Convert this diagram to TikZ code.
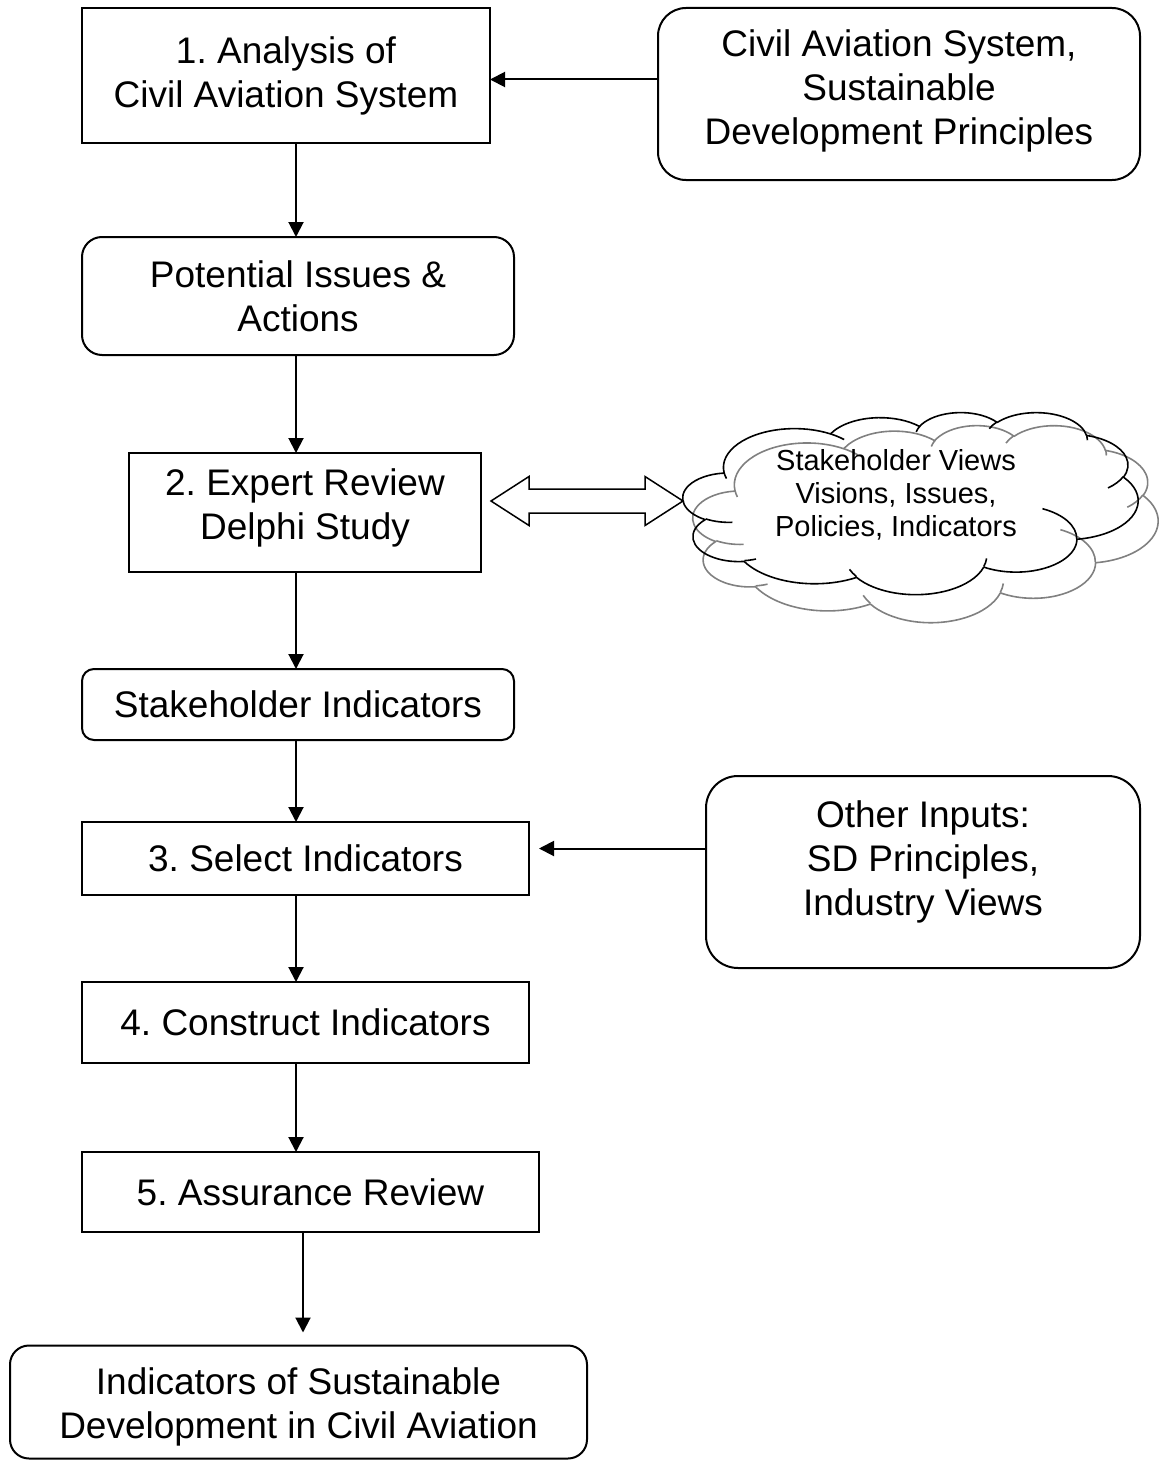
\documentclass[tikz,border=0pt]{standalone}
\usepackage{fontspec}
\setmainfont{Liberation Sans}
\usetikzlibrary{arrows.meta, calc}

% One elliptical arc of the cloud outline: x radius, y radius, start and sweep
% given as angles seen from the ellipse centre; converted to the parametric
% angles that TikZ's arc operation expects.
\newcommand\cloudarc[4]{%
  \pgfextra{%
    \pgfmathsetmacro\cArx{#1}%
    \pgfmathsetmacro\cAry{#2}%
    \pgfmathsetmacro\cAts{atan2(\cArx*sin(#3),\cAry*cos(#3))}%
    \pgfmathsetmacro\cAte{atan2(\cArx*sin(#3+#4),\cAry*cos(#3+#4))}%
    \pgfmathsetmacro\cAd{mod(\cAte-\cAts+720,360)}%
    \pgfmathsetmacro\cAd{(#4)>0 ? \cAd : \cAd-360}%
    \global\let\cAts\cAts \global\let\cAd\cAd
    \global\let\cArx\cArx \global\let\cAry\cAry}%
  arc[start angle=\cAts, delta angle=\cAd, x radius=\cArx, y radius=\cAry]%
}

% Cloud drawn in a 432 x 432 box (origin top left, y pointing down)
\newcommand\cloudoutline{%
  (39,143.7)
  \cloudarc{67.53}{91.90}{-190.4875}{123.7805}
  \cloudarc{53.33}{72.67}{-144.1024}{89.9452}
  \cloudarc{43.65}{59.45}{-145.8079}{99.7230}
  \cloudarc{48.57}{65.95}{-130.9861}{117.2417}
  \cloudarc{53.33}{72.73}{-78.7089}{109.0269}
  \cloudarc{67.75}{92.20}{-46.2673}{130.2690}
  \cloudarc{57.85}{78.67}{0.6250}{114.0333}
  \cloudarc{67.52}{92.15}{22.4516}{115.1726}
  \cloudarc{77.20}{105.43}{66.2426}{75.7110}
  \cloudarc{43.60}{59.18}{-274.9421}{146.7356}
  \cloudarc{43.45}{59.45}{-246.8285}{152.5189}
  -- cycle}
\newcommand\cloudcreases{%
  (46.93,261.77)  \cloudarc{43.45}{59.45}{86.7420}{26.4295}
  (69.28,348.99)  \cloudarc{43.60}{59.18}{73.6105}{11.4475}
  (164.78,390.90) \cloudarc{67.52}{92.15}{137.6242}{14.0811}
  (288.27,347.51) \cloudarc{67.52}{92.15}{6.4533}{15.9984}
  (341.29,229.54) \cloudarc{57.85}{78.67}{-70.2924}{70.9174}
  (417.98,153.54) \cloudarc{53.33}{72.73}{30.3180}{27.7515}
  (383.24,54.26)  \cloudarc{48.57}{65.95}{-13.7443}{14.8589}
  (290.78,39.52)  \cloudarc{48.57}{65.95}{-149.1815}{18.1954}
  (221.41,47.20)  \cloudarc{43.65}{59.45}{-163.4943}{17.6864}
  (140.00,51.92)  \cloudarc{67.53}{91.90}{-66.7070}{12.3194}
  (41.27,157.89)  \cloudarc{67.53}{91.90}{157.6544}{11.8582}}

\begin{document}
\frenchspacing
\begin{tikzpicture}[x=1pt, y=-1pt,
  every node/.style={inner sep=0pt, outer sep=0pt},
  bigtext/.style={font=\fontsize{37}{44}\selectfont, align=center},
  stepbox/.style={draw, line width=2pt, rectangle, bigtext},
  roundbox/.style={draw, line width=2pt, rectangle, bigtext, rounded corners=#1},
  roundbox/.default=20pt,
  arr/.style={line width=2pt, -{Triangle[length=15pt, width=15pt]}},
  blockarrow/.style={draw, line width=1.5pt, fill=white, line join=miter},
  cloudline/.style={line width=1.6pt, line join=round}
]
\useasboundingbox (0,0) rectangle (1164,1461);

% vertical spines used by the flow arrows
\coordinate (spine) at (296,0);
\coordinate (spineb) at (303,0);

% main flow
\node[stepbox, minimum width=408pt, minimum height=135pt] (b1) at (286,75.5)
  {1. Analysis of\\Civil Aviation System};
\node[roundbox=28pt, minimum width=482pt, minimum height=172pt] (rb) at (899,94) {};
\node[bigtext] (rbtext) at (899,91)
  {Civil Aviation System,\\Sustainable\\Development Principles};

\node[roundbox=20pt, minimum width=432pt, minimum height=118pt] (pi) at (298,296)
  {Potential Issues \&\\Actions};

\node[stepbox, minimum width=352pt, minimum height=119pt] (b2) at (305,512.5) {};
\node[bigtext] (b2text) at (305,507.5) {2. Expert Review\\Delphi Study};

% stakeholder cloud: a grey copy behind, the black one in front
\begin{scope}[shift={(693,425)}, xscale=465/432, yscale=197/432]
  \draw[cloudline, draw=black!50] \cloudoutline;
  \draw[cloudline, draw=black!50] \cloudcreases;
\end{scope}
\begin{scope}[shift={(683,412)}, xscale=455/432, yscale=182/432]
  \draw[cloudline] \cloudoutline;
  \draw[cloudline] \cloudcreases;
\end{scope}
\coordinate (cloud) at (683,501);
\node[font=\fontsize{29}{33}\selectfont, align=center] (cloudtext) at (896,495)
  {Stakeholder Views\\Visions, Issues,\\Policies, Indicators};

\node[roundbox=12pt, minimum width=432pt, minimum height=71pt] (si) at (298,704.5)
  {Stakeholder Indicators};

\node[stepbox, minimum width=447pt, minimum height=73pt] (b3) at (305.5,858.5)
  {3. Select Indicators};
\node[roundbox=32pt, minimum width=434pt, minimum height=192pt] (oth) at (923,872) {};
\node[bigtext] (othtext) at (923,862) {Other Inputs:\\SD Principles,\\Industry Views};

\node[stepbox, minimum width=447pt, minimum height=81pt] (b4) at (305.5,1022.5)
  {4. Construct Indicators};
\node[stepbox, minimum width=457pt, minimum height=80pt] (b5) at (310.5,1192)
  {5. Assurance Review};
\node[roundbox=19pt, minimum width=577pt, minimum height=113pt] (fin) at (298.5,1402) {};
\node[bigtext] (fintext) at (298.5,1407)
  {Indicators of Sustainable\\Development in Civil Aviation};

% connectors
\draw[arr] ([yshift=-4pt]b1.east -| rb.west) -- ([yshift=-4pt]b1.east);
\draw[arr] (b1.south -| spine) -- (pi.north -| spine);
\draw[arr] (pi.south -| spine) -- (b2.north -| spine);
\draw[arr] (b2.south -| spine) -- (si.north -| spine);
\draw[arr] (si.south -| spine) -- (b3.north -| spine);
\draw[arr, shorten >=10pt] ([yshift=10pt]b3.east -| oth.west) -- ([yshift=10pt]b3.east);
\draw[arr] (b3.south -| spine) -- (b4.north -| spine);
\draw[arr] (b4.south -| spine) -- (b5.north -| spine);
\draw[arr, shorten >=13pt] (b5.south -| spineb) -- (fin.north -| spineb);

% two-headed block arrow between the review and the cloud
\path[blockarrow] let \p1 = ([xshift=10pt]b2.east |- cloud),
                      \p2 = (cloud) in
  (\x1,\y1) -- (\x1+38pt,\y1+24.5pt) -- (\x1+38pt,\y1+12pt)
  -- (\x2-38pt,\y1+12pt) -- (\x2-38pt,\y1+24.5pt) -- (\x2,\y1)
  -- (\x2-38pt,\y1-24.5pt) -- (\x2-38pt,\y1-12pt)
  -- (\x1+38pt,\y1-12pt) -- (\x1+38pt,\y1-24.5pt) -- cycle;
\end{tikzpicture}
\end{document}
